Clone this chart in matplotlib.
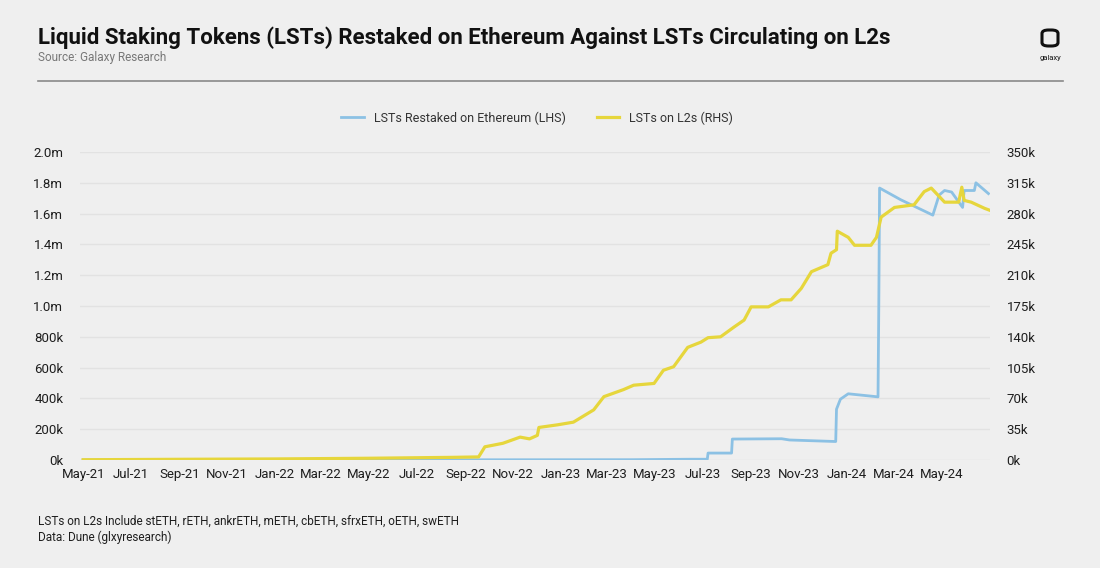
import matplotlib
matplotlib.use("Agg")
import matplotlib.pyplot as plt
from matplotlib.patches import FancyBboxPatch
import pandas as pd

# --- Datos ---
fechas_eth = ["2021-05-01", "2023-04-01", "2023-06-15", "2023-07-07", "2023-07-08",
              "2023-08-07", "2023-08-08", "2023-10-10", "2023-10-20", "2023-12-18",
              "2023-12-19", "2023-12-24", "2024-01-03", "2024-02-10", "2024-02-11",
              "2024-02-12", "2024-03-10", "2024-04-20", "2024-04-28", "2024-05-05",
              "2024-05-14", "2024-05-28", "2024-05-30", "2024-06-12", "2024-06-14",
              "2024-06-30"]
restaked_eth = [0, 2e3, 5e3, 5e3, 45e3,
                45e3, 136e3, 138e3, 130e3, 120e3,
                330e3, 395e3, 430e3, 410e3, 1.0e6,
                1.766e6, 1.69e6, 1.59e6, 1.72e6, 1.75e6,
                1.74e6, 1.64e6, 1.75e6, 1.75e6, 1.80e6,
                1.73e6]

fechas_l2 = ["2021-05-01", "2021-09-01", "2022-01-01", "2022-05-01", "2022-08-15",
             "2022-09-18", "2022-09-26", "2022-10-19", "2022-11-10", "2022-11-22",
             "2022-12-02", "2022-12-04", "2022-12-28", "2023-01-17", "2023-02-12",
             "2023-02-25", "2023-03-22", "2023-04-04", "2023-04-30", "2023-05-12",
             "2023-05-25", "2023-06-12", "2023-06-29", "2023-07-08", "2023-07-24",
             "2023-08-10", "2023-08-23", "2023-09-01", "2023-09-23", "2023-10-09",
             "2023-10-22", "2023-11-04", "2023-11-17", "2023-12-08", "2023-12-12",
             "2023-12-19", "2023-12-20", "2024-01-03", "2024-01-11", "2024-02-01",
             "2024-02-08", "2024-02-14", "2024-03-02", "2024-03-27", "2024-04-09",
             "2024-04-18", "2024-05-05", "2024-05-23", "2024-05-27", "2024-05-30",
             "2024-06-08", "2024-06-25", "2024-07-01"]
l2_lst = [300, 800, 1200, 2000, 3000,
          3500, 15e3, 19e3, 26e3, 24e3,
          28e3, 37e3, 40e3, 43e3, 57e3,
          72e3, 80e3, 85e3, 87e3, 102e3,
          106e3, 128e3, 134e3, 139e3, 140e3,
          151e3, 159e3, 174e3, 174e3, 182e3,
          182e3, 195e3, 214e3, 222e3, 235e3,
          239e3, 260e3, 253e3, 244e3, 244e3,
          253e3, 276e3, 287e3, 290e3, 305e3,
          309e3, 293e3, 293e3, 310e3, 295e3,
          293e3, 286e3, 284e3]

left_ticks = [0, 200e3, 400e3, 600e3, 800e3, 1.0e6, 1.2e6, 1.4e6, 1.6e6, 1.8e6, 2.0e6]
left_labels = ["0k", "200k", "400k", "600k", "800k", "1.0m", "1.2m", "1.4m", "1.6m", "1.8m", "2.0m"]
right_ticks = [0, 35e3, 70e3, 105e3, 140e3, 175e3, 210e3, 245e3, 280e3, 315e3, 350e3]
right_labels = ["0k", "35k", "70k", "105k", "140k", "175k", "210k", "245k", "280k", "315k", "350k"]

azul = "#8cc1e4"
amarillo = "#e6d63c"
fondo = "#efefef"
texto = "#1e1e1e"

plt.rcParams["font.family"] = ["Roboto", "DejaVu Sans"]

fig = plt.figure(figsize=(11, 5.68), dpi=100, facecolor=fondo)
ax1 = fig.add_axes([80 / 1100, 1 - 460 / 568, 910 / 1100, 308 / 568])
ax1.set_facecolor(fondo)
ax2 = ax1.twinx()

l1, = ax1.plot(pd.to_datetime(fechas_eth), restaked_eth, color=azul, lw=2,
               label="LSTs Restaked on Ethereum (LHS)", zorder=3)
l2, = ax2.plot(pd.to_datetime(fechas_l2), l2_lst, color=amarillo, lw=2.3,
               label="LSTs on L2s (RHS)", zorder=3)

ax1.set_ylim(0, 2.0e6)
ax2.set_ylim(0, 350e3)
ax1.set_xlim(pd.Timestamp("2021-04-27"), pd.Timestamp("2024-07-02"))
ax1.set_yticks(left_ticks)
ax1.set_yticklabels(left_labels)
ax2.set_yticks(right_ticks)
ax2.set_yticklabels(right_labels)

xt = pd.date_range("2021-05-01", "2024-05-01", freq="2MS")
ax1.set_xticks(xt)
ax1.set_xticklabels([d.strftime("%b-%y") for d in xt])

for ax in (ax1, ax2):
    for s in ax.spines.values():
        s.set_visible(False)
    ax.tick_params(length=0, labelsize=9.5, colors=texto)
ax1.tick_params(axis="y", pad=12)
ax2.tick_params(axis="y", pad=12)
ax1.tick_params(axis="x", pad=6)
ax1.grid(axis="y", color="#e2e2e2", lw=1)
ax1.set_axisbelow(True)

fig.legend(handles=[l1, l2], loc="center", bbox_to_anchor=(537 / 1100, 1 - 118 / 568),
           ncol=2, frameon=False, fontsize=9, handlelength=1.8, columnspacing=2.5,
           labelcolor="#333333")

# --- Encabezado ---
fig.text(38 / 1100, 1 - 38 / 568, "Liquid Staking Tokens (LSTs) Restaked on Ethereum Against LSTs Circulating on L2s",
         fontsize=16, fontweight="bold", color="#111111", va="center", ha="left")
fig.text(38 / 1100, 1 - 58 / 568, "Source: Galaxy Research", fontsize=8.5, color="#777777",
         va="center", ha="left")
fig.add_artist(plt.Line2D([38 / 1100, 1063 / 1100], [1 - 81 / 568, 1 - 81 / 568],
                          color="#8a8a8a", lw=1.2))

# logo
logo = FancyBboxPatch((1042 / 1100, 1 - 46 / 568), 16 / 1100, 16 / 568,
                      boxstyle="round,pad=0,rounding_size=0.006", transform=fig.transFigure,
                      fill=False, ec="#111111", lw=2.2)
fig.add_artist(logo)
fig.text(1050 / 1100, 1 - 58 / 568, "galaxy", fontsize=5.5, color="#111111", ha="center", va="center")

# --- Notas ---
fig.text(38 / 1100, 1 - 521 / 568, "LSTs on L2s Include stETH, rETH, ankrETH, mETH, cbETH, sfrxETH, oETH, swETH",
         fontsize=8.5, color=texto, va="center")
fig.text(38 / 1100, 1 - 537 / 568, "Data: Dune (glxyresearch)", fontsize=8.5, color=texto, va="center")

fig.savefig("out.png", dpi=100, facecolor=fondo)
